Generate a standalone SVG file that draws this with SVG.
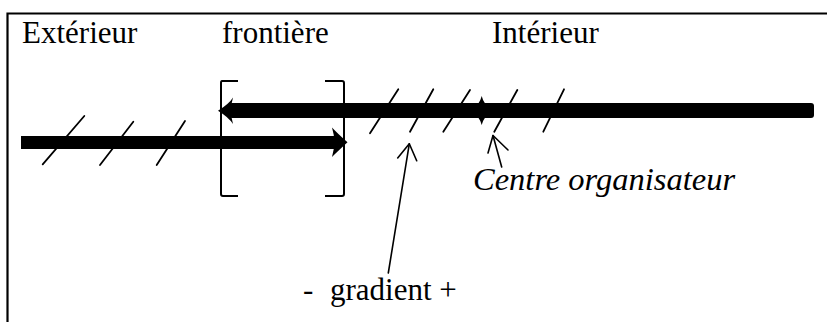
<svg xmlns="http://www.w3.org/2000/svg" width="827" height="322" viewBox="0 0 827 322">
  <style>
    .lbl { font-family: "Liberation Serif", "Times New Roman", serif; font-size: 31px; fill: #000; }
    .it { font-style: italic; font-size: 32.5px; }
    .thin { fill: none; stroke: #000; stroke-width: 1.6; stroke-linecap: round; stroke-linejoin: round; }
    .hatch { fill: none; stroke: #000; stroke-width: 1.8; stroke-linecap: round; }
    .frame { fill: none; stroke: #000; stroke-width: 2.2; }
    .brk { fill: none; stroke: #000; stroke-width: 2; stroke-linejoin: round; }
  </style>
  <rect width="827" height="322" fill="#fff"/>
  <g id="frame">
    <path class="frame" d="M7.5,322 L7.5,13.5 L827,13.5"/>
  </g>
  <g id="exterieur"><text class="lbl" x="22" y="43">Extérieur</text></g>
  <g id="frontiere"><text class="lbl" x="222" y="43">frontière</text></g>
  <g id="interieur"><text class="lbl" x="492" y="43">Intérieur</text></g>
  <g id="brackets">
    <path class="brk" d="M238,81 L222,81 Q221,81 221,83 L221,194 Q221,196 223,196 L238,196"/>
    <path class="brk" d="M325,81 L342,81 Q344,81 344,83 L344,194 Q344,196 342,196 L325,196"/>
  </g>
  <g id="hatches">
    <line class="hatch" x1="42.7" y1="164.3" x2="84.3" y2="116"/>
    <line class="hatch" x1="100" y1="165" x2="133.3" y2="121.7"/>
    <line class="hatch" x1="156.7" y1="165" x2="185" y2="121"/>
    <line class="hatch" x1="370" y1="133.3" x2="398.3" y2="89.3"/>
    <line class="hatch" x1="410" y1="131.7" x2="433.3" y2="89.3"/>
    <line class="hatch" x1="443.3" y1="131.7" x2="470" y2="90"/>
    <line class="hatch" x1="494.3" y1="131.7" x2="517.3" y2="90"/>
    <line class="hatch" x1="543.3" y1="131.7" x2="564" y2="89.3"/>
  </g>
  <g id="axes">
    <rect x="21" y="136" width="314" height="13" fill="#000"/>
    <path d="M332,127.5 Q337,133 347.5,142.3 Q337,152 332,157 Q334.5,149 334,142.3 Q334.5,135 332,127.5Z" fill="#000"/>
    <rect x="229" y="103" width="585" height="15" rx="3" fill="#000"/>
    <path d="M233,97.5 Q229,104 218,110.7 Q229,117.5 233,124 Q231,117 231,110.7 Q231,104 233,97.5Z" fill="#000"/>
    <path id="centre-mark" d="M481.7,96 Q483.5,104 492,110.5 Q483.5,117 481.7,125 Q479.9,117 471.5,110.5 Q479.9,104 481.7,96Z" fill="#000"/>
  </g>
  <g id="centre-label"><text class="lbl it" x="473" y="190">Centre organisateur</text></g>
  <g id="gradient-label"><text class="lbl" y="300"><tspan x="303">-</tspan><tspan x="330">gradient +</tspan></text></g>
  <g id="connectors">
    <path class="thin" d="M501.7,167 L493,135.5"/>
    <path class="thin" d="M488,153 L493,135.5 L508,150"/>
    <path class="thin" d="M388.3,273 L409.3,143.8"/>
    <path class="thin" d="M397.7,158 L409.3,143.8 L416.7,160.7"/>
  </g>
</svg>
